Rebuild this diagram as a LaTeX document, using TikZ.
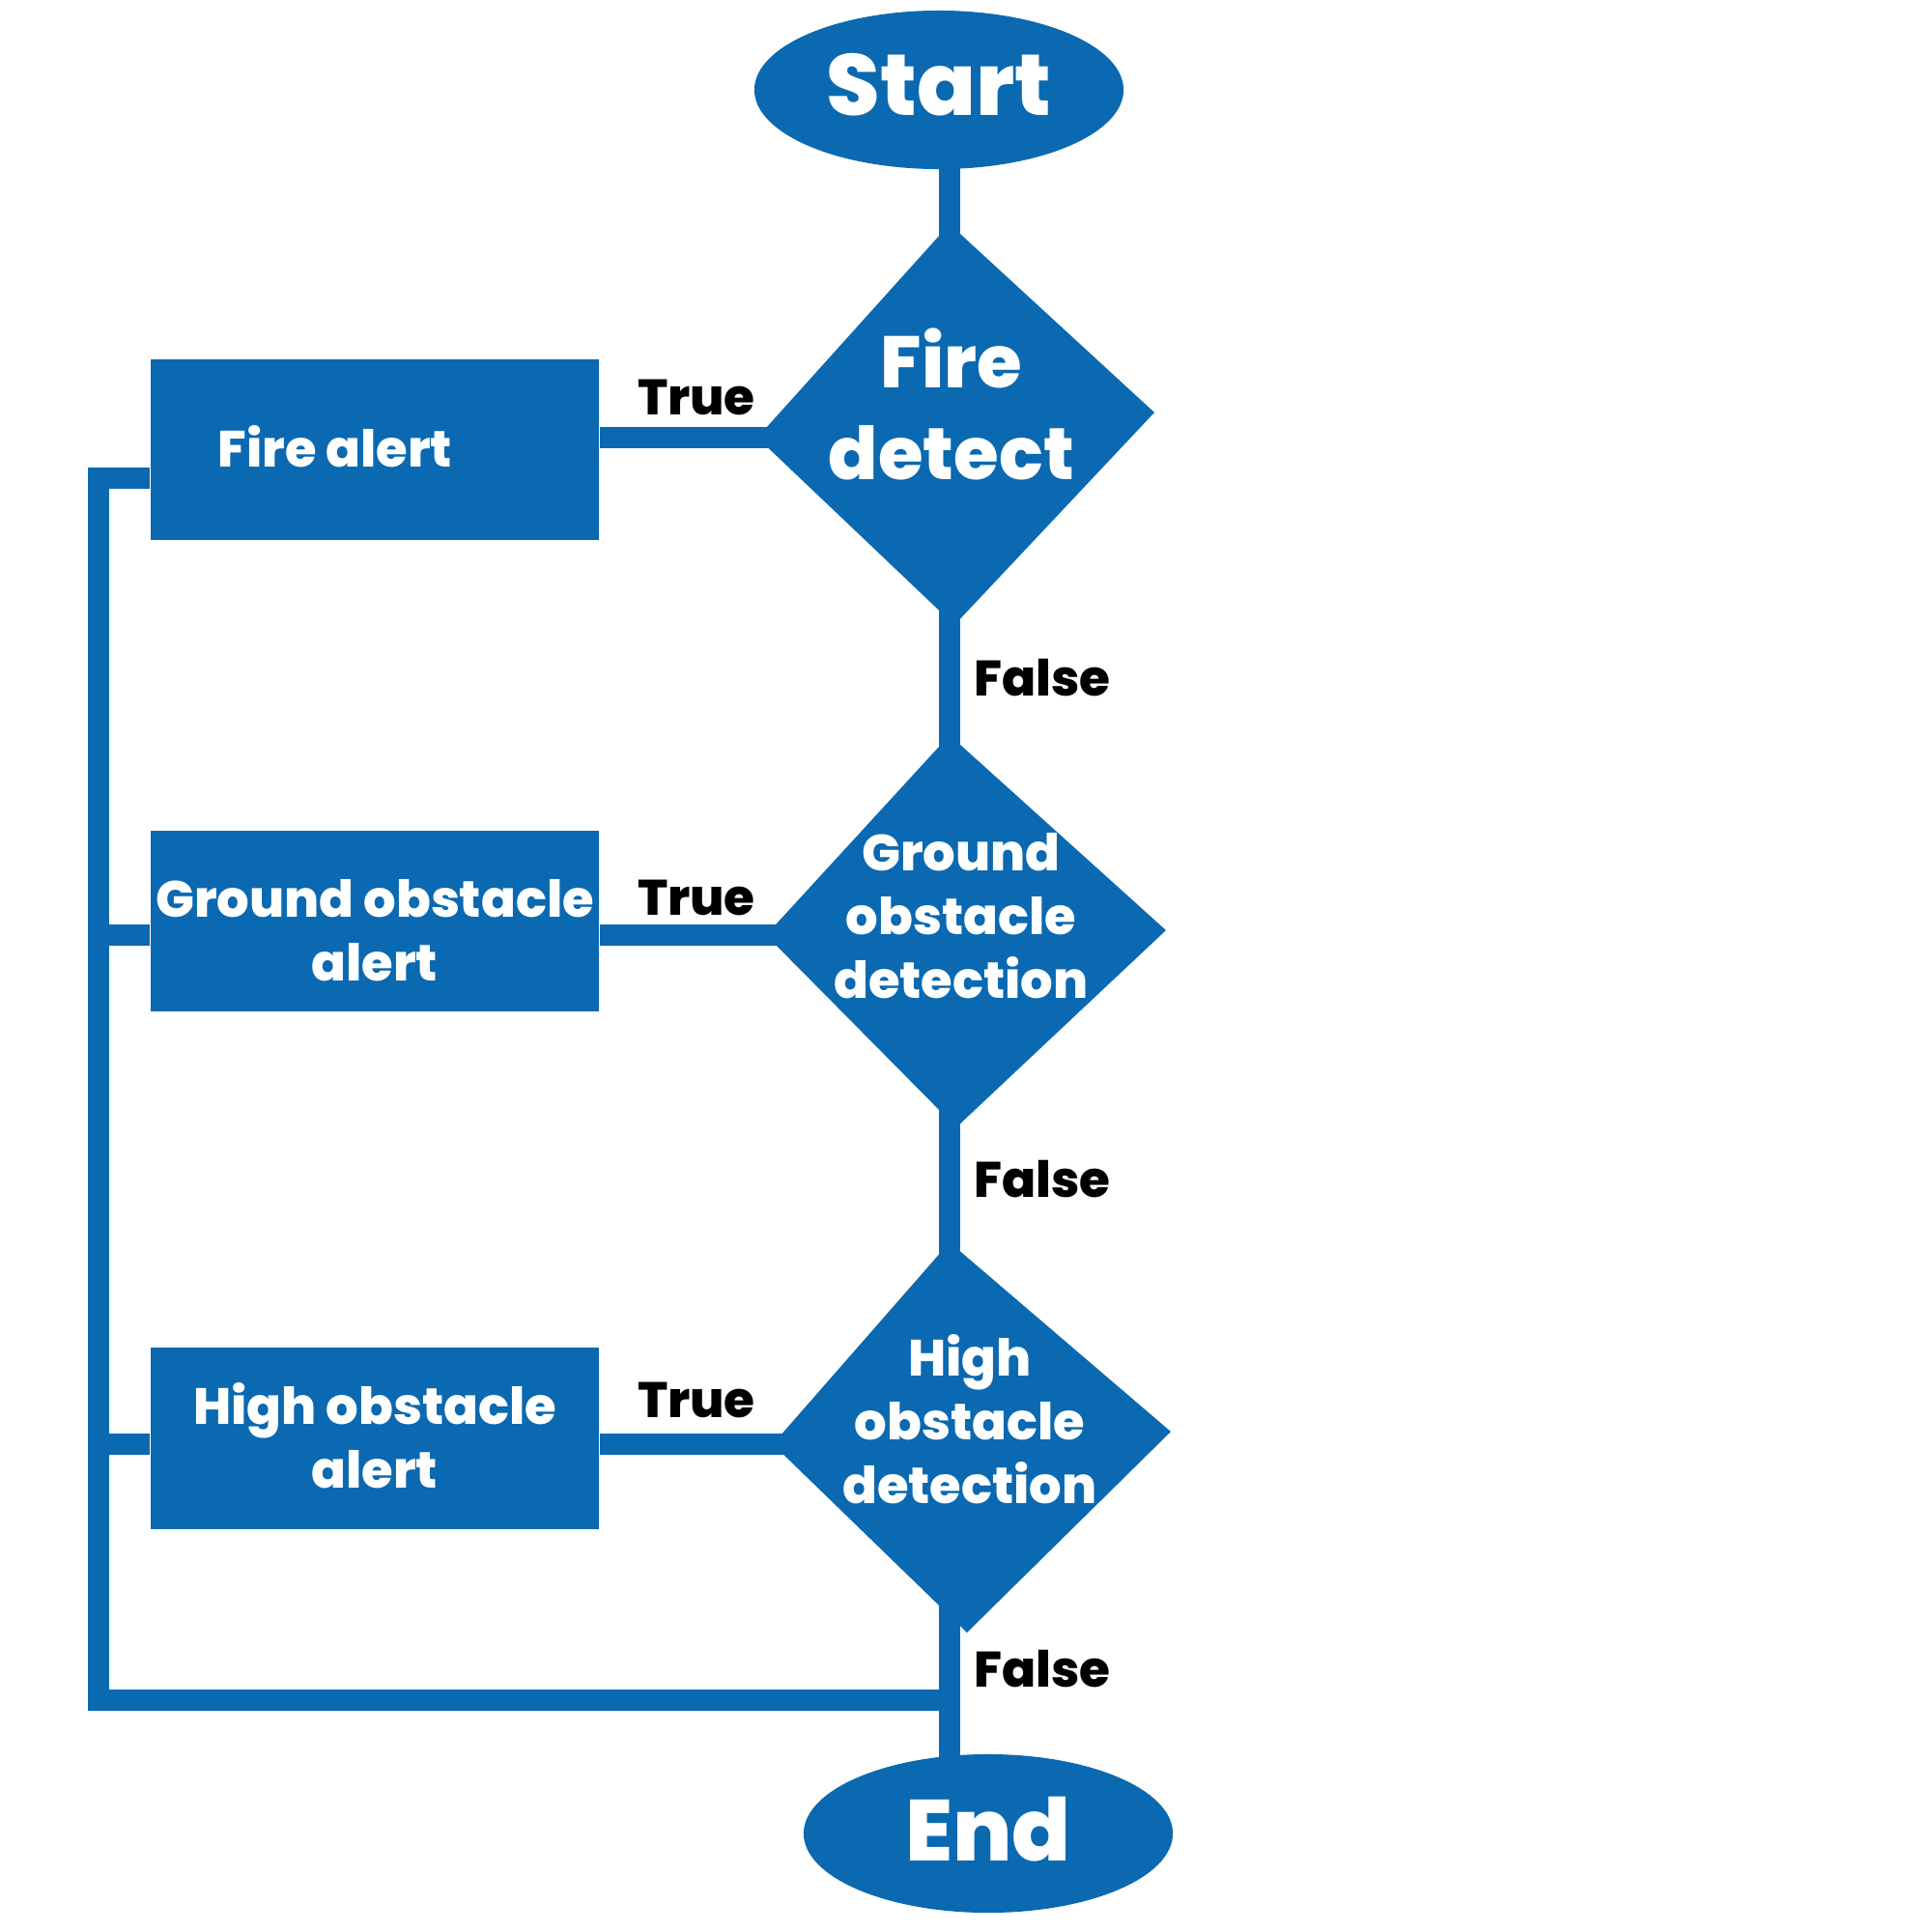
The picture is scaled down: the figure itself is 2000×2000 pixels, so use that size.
\documentclass[tikz,border=0pt]{standalone}
\usepackage{fontspec}
\setmainfont{Poppins}[BoldFont={* ExtraBold}]
\usetikzlibrary{shapes.geometric}
\definecolor{fcblue}{RGB}{10,105,177}
\begin{document}
\begin{tikzpicture}[x=0.01cm,y=-0.01cm,
  conn/.style={draw=fcblue,line width=0.22cm},
  term/.style={ellipse,fill=fcblue,minimum width=3.82cm,minimum height=1.64cm,inner sep=0pt},
  termtext/.style={text=white,inner sep=0pt,font=\bfseries\fontsize{25.5}{30}\selectfont},
  box/.style={rectangle,fill=fcblue,minimum width=4.64cm,minimum height=1.87cm,inner sep=0pt},
  boxtext/.style={text=white,align=center,inner sep=0pt,font=\bfseries\fontsize{15}{18.7}\selectfont},
  dtext/.style={text=white,align=center,inner sep=0pt},
  lbl/.style={text=black,inner sep=0pt,font=\bfseries\fontsize{14.7}{18}\selectfont}]
\useasboundingbox (0,0) rectangle (2000,2000);
% terminals
\node[term] (start) at (972,93) {};
\node[term] (end) at (1023,1898) {};
% boxes
\node[box] (fbox) at (388,465.5) {};
\node[box] (gbox) at (388,953.5) {};
\node[box] (hbox) at (388,1489) {};
% diamonds
\coordinate (f-t) at (983,232);
\coordinate (f-r) at (1195,427);
\coordinate (f-b) at (988,647);
\coordinate (f-l) at (784,453);
\coordinate (f-c) at (983,440);
\coordinate (g-t) at (983,761);
\coordinate (g-r) at (1207,963);
\coordinate (g-b) at (990,1167);
\coordinate (g-l) at (793,968);
\coordinate (g-c) at (983,963);
\coordinate (h-t) at (983,1286);
\coordinate (h-r) at (1212,1482);
\coordinate (h-b) at (1001,1690);
\coordinate (h-l) at (800,1495);
\coordinate (h-c) at (983,1490);
\fill[fcblue] (f-t) -- (f-r) -- (f-b) -- (f-l) -- cycle;
\fill[fcblue] (g-t) -- (g-r) -- (g-b) -- (g-l) -- cycle;
\fill[fcblue] (h-t) -- (h-r) -- (h-b) -- (h-l) -- cycle;
% bus coordinates
\coordinate (busTop) at (102,495);
\coordinate (busBot) at (102,1760);
% connectors
\draw[conn] (start.center -| f-t) -- (f-c);
\draw[conn] (f-c) -- (g-c);
\draw[conn] (g-c) -- (h-c);
\draw[conn] (h-c) -- (end.center -| f-t);
\draw[conn] (f-l) ++(20,0) -- (f-l -| fbox.east);
\draw[conn] (g-l) ++(20,0) -- (g-l -| gbox.east);
\draw[conn] (h-l) ++(20,0) -- (h-l -| hbox.east);
\draw[conn] (fbox.west |- busTop) -- (busTop) -- (busBot) -- (busBot -| f-t);
\draw[conn] (gbox.west |- g-l) -- (g-l -| busTop);
\draw[conn] (hbox.west |- h-l) -- (h-l -| busTop);
% texts
\node[termtext] (starttext) at (972,88) {Start};
\node[termtext] (endtext) at (1023,1894) {End};
\node[dtext,font=\bfseries\fontsize{21.5}{27}\selectfont] (firetext) at (985,418) {Fire\\detect};
\node[dtext,font=\bfseries\fontsize{15}{18.7}\selectfont] (groundtext) at (995,948) {Ground\\obstacle\\detection};
\node[dtext,font=\bfseries\fontsize{15}{18.7}\selectfont] (hightext) at (1004,1469) {High\\obstacle\\detection};
\node[boxtext] (fboxtext) at (347,462) {Fire alert};
\node[boxtext] (gboxtext) at (388,963) {Ground obstacle\\alert};
\node[boxtext] (hboxtext) at (388,1486) {High obstacle\\alert};
\node[lbl] (t1) at (721,411) {True};
\node[lbl] (t2) at (721,929) {True};
\node[lbl] (t3) at (721,1449) {True};
\node[lbl] (f1) at (1079,702) {False};
\node[lbl] (f2) at (1079,1221) {False};
\node[lbl] (f3) at (1079,1728) {False};
\end{tikzpicture}
\end{document}
